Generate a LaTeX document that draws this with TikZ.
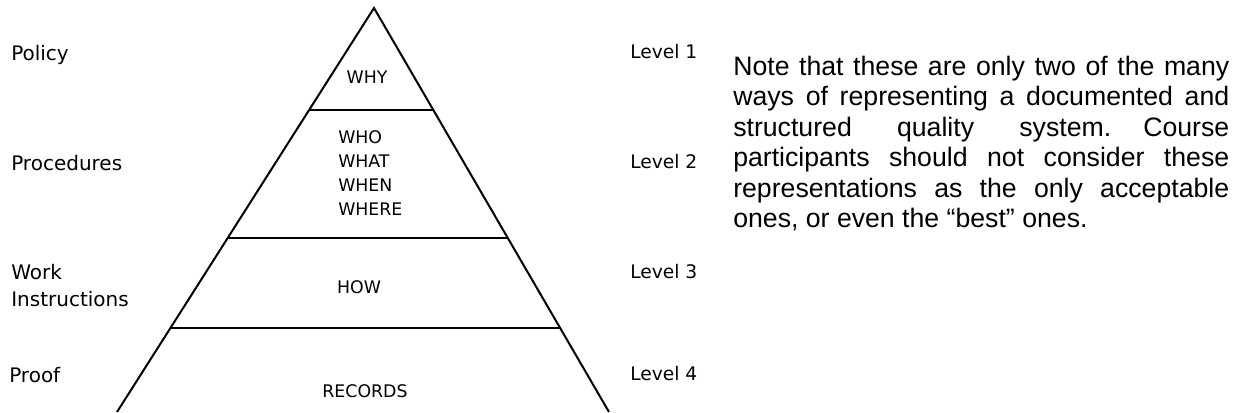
\documentclass[tikz,border=0pt]{standalone}
\usepackage{fontspec}
\usetikzlibrary{calc}
\newfontfamily\lblfont{DejaVu Sans}
\newfontfamily\parafont{Liberation Sans}
\begin{document}
\begin{tikzpicture}[x=0.75pt,y=-0.75pt,
  side/.style={line width=1.5pt,line join=miter},
  band/.style={line width=1.2pt},
  outer/.style={anchor=base west,inner sep=0pt,font=\lblfont\fontsize{15pt}{18pt}\selectfont},
  levelbox/.style={anchor=base west,inner sep=0pt,font=\lblfont\fontsize{14pt}{17pt}\selectfont},
  inner/.style={anchor=base,inner sep=0pt,font=\lblfont\fontsize{13pt}{16pt}\selectfont},
  para/.style={anchor=base west,inner sep=0pt,font=\parafont\fontsize{20pt}{23pt}\selectfont}]
\useasboundingbox (0,0) rectangle (1233,412);
% pyramid
\coordinate (apex) at (374,8);
\coordinate (bl) at (117,412);
\coordinate (br) at (609,412);
\draw[side] (bl) -- (apex) -- (br);
\coordinate (l1) at ($(apex)!0.2525!(bl)$);
\coordinate (r1) at ($(apex)!0.2525!(br)$);
\coordinate (l2) at ($(apex)!0.5693!(bl)$);
\coordinate (r2) at ($(apex)!0.5693!(br)$);
\coordinate (l3) at ($(apex)!0.792!(bl)$);
\coordinate (r3) at ($(apex)!0.792!(br)$);
\draw[band] (l1) -- (r1);
\draw[band] (l2) -- (r2);
\draw[band] (l3) -- (r3);
% inner labels
\node[inner] (why) at (367,83) {WHY};
\node[inner,anchor=base west] (who) at (338,143) {WHO};
\node[inner,anchor=base west] (what) at (338,167) {WHAT};
\node[inner,anchor=base west] (when) at (338,191) {WHEN};
\node[inner,anchor=base west] (where) at (338,215) {WHERE};
\node[inner] (how) at (359,293) {HOW};
\node[inner] (records) at (365,397) {RECORDS};
% left labels
\node[outer] (policy) at (11,60) {Policy};
\node[outer] (proc) at (11,170) {Procedures};
\node[outer] (work) at (11,279) {Work};
\node[outer] (instr) at (11,306) {Instructions};
\node[outer] (proof) at (9,382) {Proof};
% right labels
\node[levelbox] (lv1) at (630,58) {Level 1};
\node[levelbox] (lv2) at (630,168) {Level 2};
\node[levelbox] (lv3) at (630,278) {Level 3};
\node[levelbox] (lv4) at (630,380) {Level 4};
% paragraph
\node[para] (p1) at (733,75) {\makebox[372pt][s]{Note that these are only two of the many}};
\node[para] (p2) at (733,105.5) {\makebox[372pt][s]{ways of representing a documented and}};
\node[para] (p3) at (733,136) {\makebox[372pt][s]{structured quality system.\hspace{1.2em}Course}};
\node[para] (p4) at (733,166.5) {\makebox[372pt][s]{participants should not consider these}};
\node[para] (p5) at (733,197) {\makebox[372pt][s]{representations as the only acceptable}};
\node[para] (p6) at (733,227.5) {ones, or even the “best” ones.};
\end{tikzpicture}
\end{document}
